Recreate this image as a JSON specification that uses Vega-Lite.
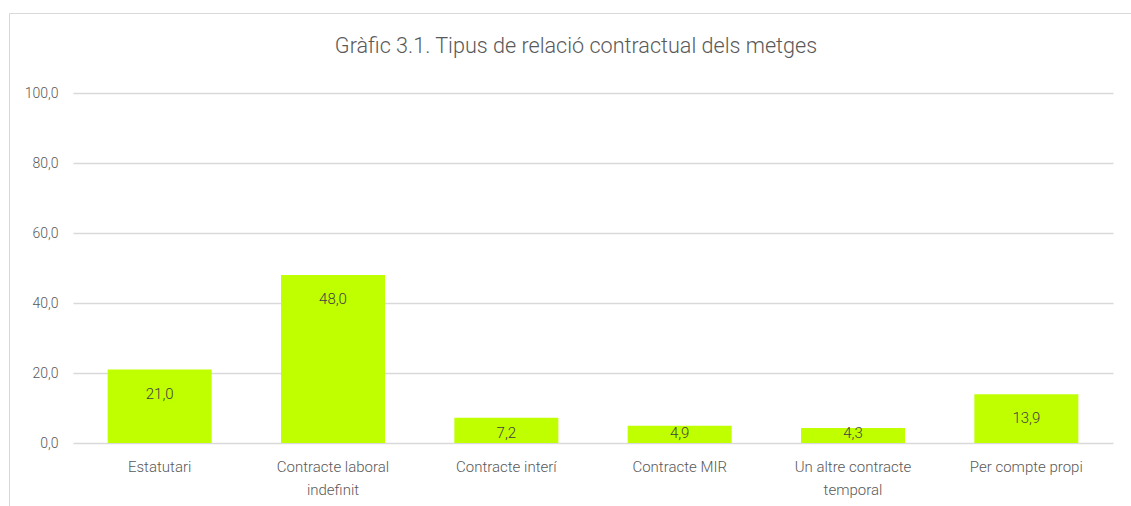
{
  "$schema": "https://vega.github.io/schema/vega-lite/v6.json",
  "autosize": "none",
  "width": 1134,
  "height": 500,
  "padding": {"left": 9, "top": 13, "right": 0, "bottom": 0},
  "background": "white",
  "config": {
    "locale": {"number": {"decimal": ",", "thousands": ".", "grouping": [3], "currency": ["", " €"]}},
    "view": {"stroke": "#D9D9D9", "strokeWidth": 1},
    "font": "Roboto"
  },
  "title": {
    "text": "Gràfic 3.1. Tipus de relació contractual dels metges",
    "anchor": "middle",
    "frame": "group",
    "baseline": "alphabetic",
    "offset": -62,
    "fontSize": 21.6,
    "fontWeight": 300,
    "color": "#595959",
    "font": "Roboto"
  },
  "data": {
    "values": [
      {"categoria": "Estatutari", "valor": 21.0},
      {"categoria": "Contracte laboral indefinit", "valor": 48.0},
      {"categoria": "Contracte interí", "valor": 7.2},
      {"categoria": "Contracte MIR", "valor": 4.9},
      {"categoria": "Un altre contracte temporal", "valor": 4.3},
      {"categoria": "Per compte propi", "valor": 13.9}
    ]
  },
  "encoding": {
    "x": {
      "field": "categoria",
      "type": "nominal",
      "sort": null,
      "scale": {"range": [64, 1104], "paddingInner": 0.4, "paddingOuter": 0.2},
      "axis": {
        "title": null,
        "offset": -70,
        "domain": false,
        "ticks": false,
        "tickSize": 0,
        "labelPadding": 16,
        "labelAngle": 0,
        "labelFontSize": 15,
        "labelFont": "Roboto",
        "labelFontWeight": 300,
        "labelColor": "#595959",
        "labelLineHeight": 23,
        "labelBaseline": "top",
        "labelLimit": 300,
        "labelExpr": "datum.value == 'Contracte laboral indefinit' ? ['Contracte laboral', 'indefinit'] : datum.value == 'Un altre contracte temporal' ? ['Un altre contracte', 'temporal'] : datum.value"
      }
    }
  },
  "layer": [
    {
      "mark": {"type": "bar", "color": "#BFFF00"},
      "encoding": {
        "y": {
          "field": "valor",
          "type": "quantitative",
          "scale": {"domain": [0, 100], "range": [430, 80], "nice": false},
          "axis": {
            "title": null,
            "offset": -64,
            "values": [0, 20, 40, 60, 80, 100],
            "format": ".1f",
            "domain": false,
            "ticks": false,
            "tickSize": 0,
            "labelPadding": 15,
            "labelFontSize": 14,
            "labelFont": "Roboto",
            "labelFontWeight": 300,
            "labelColor": "#595959",
            "grid": true,
            "gridColor": "#D9D9D9",
            "gridWidth": 1.3
          }
        }
      }
    },
    {
      "transform": [{"filter": "datum.valor >= 10"}],
      "mark": {"type": "text", "baseline": "middle", "dy": 24, "fontSize": 15, "font": "Roboto", "fontWeight": 300, "color": "#404040"},
      "encoding": {
        "y": {"field": "valor", "type": "quantitative"},
        "text": {"field": "valor", "type": "quantitative", "format": ".1f"}
      }
    },
    {
      "transform": [{"filter": "datum.valor < 10"}],
      "mark": {"type": "text", "baseline": "middle", "dy": -10, "fontSize": 15, "font": "Roboto", "fontWeight": 300, "color": "#404040"},
      "encoding": {
        "y": {"datum": 0, "type": "quantitative"},
        "text": {"field": "valor", "type": "quantitative", "format": ".1f"}
      }
    }
  ]
}
